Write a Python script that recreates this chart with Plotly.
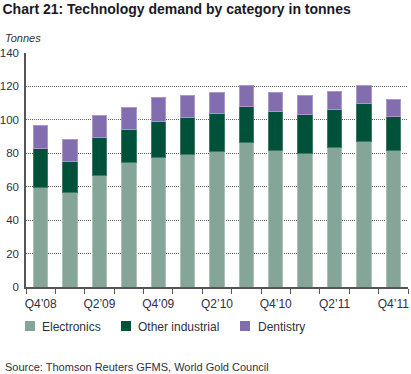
import plotly.graph_objects as go

quarters = ["Q4’08", "Q1’09", "Q2’09", "Q3’09", "Q4’09", "Q1’10", "Q2’10",
            "Q3’10", "Q4’10", "Q1’11", "Q2’11", "Q3’11", "Q4’11"]
electronics = [59.8, 56.4, 67.0, 74.2, 77.6, 79.2, 80.8, 86.4, 81.6, 79.8, 83.2, 87.2, 81.6]
other_industrial = [23.1, 18.4, 22.5, 20.1, 21.5, 22.3, 23.1, 21.7, 23.3, 23.3, 23.1, 22.7, 20.7]
dentistry = [13.8, 13.3, 13.0, 13.0, 14.0, 13.2, 12.4, 12.4, 11.4, 11.6, 10.8, 10.6, 9.8]
series_names = ["Electronics", "Other industrial", "Dentistry"]
y_ticks = [0, 20, 40, 60, 80, 100, 120, 140]

xpos = list(range(len(quarters)))
label_idx = xpos[::2]
boundaries = [i - 0.5 for i in range(len(quarters) + 1)]

FONT = "Liberation Sans"
TXT = "#30303c"
W, H = 411, 374
ML, MR, MT, MB = 26, 3, 53, 87
PW, PH = W - ML - MR, H - MT - MB

colors = ["#84A598", "#00513A", "#826DAF"]
edges = ["#A9C2B8", "#3E7A66", "#A898CC"]

fig = go.Figure()
for name, vals, col, edge in zip(series_names, [electronics, other_industrial, dentistry], colors, edges):
    fig.add_trace(go.Bar(
        x=xpos, y=vals, name=name, marker_color=col,
        marker_line_color=edge, marker_line_width=1,
        hovertemplate="%{y}<extra>" + name + "</extra>",
    ))


def px_x(px):
    return (px - ML) / PW


def px_y(py):
    return (H - MB - py) / PH


# custom legend (swatch + label), positions in page pixels
legend_items = [(25, 39.5), (121, 136), (240, 255.5)]
shapes = []
annotations = []
for (sx, tx), name, col in zip(legend_items, series_names, colors):
    shapes.append(dict(type="rect", xref="paper", yref="paper",
                       x0=px_x(sx), x1=px_x(sx + 10), y0=px_y(331), y1=px_y(321),
                       fillcolor=col, line=dict(width=0)))
    annotations.append(dict(text=name, xref="paper", yref="paper", x=px_x(tx), y=px_y(326.5),
                            xanchor="left", yanchor="middle", showarrow=False,
                            font=dict(size=12, color=TXT)))

annotations += [
    dict(text="<i>Tonnes</i>", xref="paper", yref="paper", x=px_x(3), y=px_y(37.5),
         xanchor="left", yanchor="middle", showarrow=False,
         font=dict(size=11, color=TXT)),
    dict(text="Source: Thomson Reuters GFMS, World Gold Council", xref="paper",
         yref="paper", x=px_x(2.5), y=px_y(367), xanchor="left", yanchor="middle",
         showarrow=False, font=dict(size=11, color=TXT)),
]

fig.update_layout(
    width=W, height=H,
    margin=dict(l=ML, r=MR, t=MT, b=MB, autoexpand=False),
    paper_bgcolor="white", plot_bgcolor="white",
    barmode="stack", bargap=0.51,
    font=dict(family=FONT, size=12, color=TXT),
    showlegend=False,
    xaxis=dict(
        range=[-0.5, len(quarters) - 0.5], automargin=False,
        tickmode="array", tickvals=label_idx, ticktext=[quarters[i] for i in label_idx],
        ticks="", tickfont=dict(size=12, color=TXT), ticklabelstandoff=5,
        minor=dict(tickmode="array", tickvals=boundaries, ticks="outside", ticklen=5,
                   tickcolor="#555555", tickwidth=1, showgrid=False),
        showgrid=False, showline=True, linecolor="#555555", linewidth=1.5,
        zeroline=False, fixedrange=True,
    ),
    yaxis=dict(
        range=[0, 140], tickmode="array", tickvals=y_ticks, automargin=False,
        ticks="", showgrid=True, gridcolor="#666666", griddash="1px,1px", gridwidth=1,
        showline=True, linecolor="#555555", linewidth=1.5, zeroline=False,
        tickfont=dict(size=11.5, color=TXT), ticklabelstandoff=3, fixedrange=True,
    ),
    title=dict(text="<b>Chart 21: Technology demand by category in tonnes</b>",
               x=2.5 / W, xanchor="left", y=1 - 9 / H, yanchor="middle",
               font=dict(family=FONT, size=14, color="#1a1a26")),
    shapes=shapes,
    annotations=annotations,
)

fig.write_html("out.html", config={"displayModeBar": False},
               post_script="document.body.style.margin='0';document.body.style.overflow='hidden';")
